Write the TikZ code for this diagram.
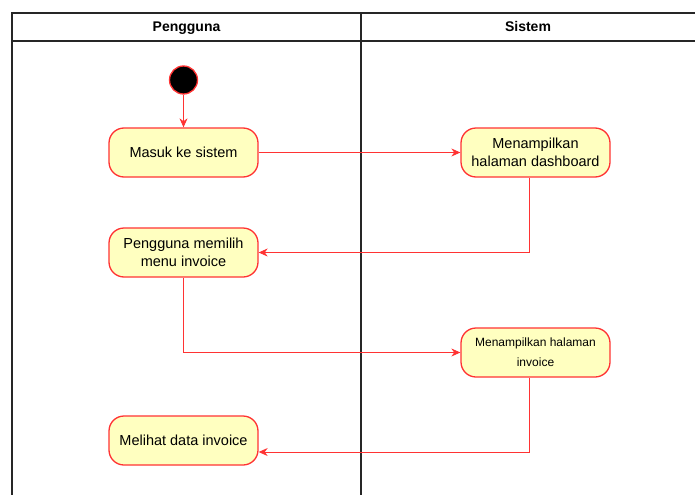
\documentclass[tikz,border=0pt]{standalone}
\usepackage{fontspec}
\setmainfont{Liberation Sans}
\usetikzlibrary{arrows.meta}
\definecolor{actfill}{HTML}{FFFFC0}
\definecolor{actline}{HTML}{FF3333}
\begin{document}
\begin{tikzpicture}[x=1pt, y=-1pt,
		act/.style={draw=actline, fill=actfill, line width=1.3pt, rounded corners=15pt,
			minimum width=149pt, minimum height=49pt, align=center, inner sep=2pt,
			font=\fontsize{14.5}{17.5}\selectfont},
		small/.style={font=\fontsize{12}{20}\selectfont},
		flow/.style={draw=actline, line width=0.9pt, -{Stealth[length=9pt, width=8pt]}},
		lane/.style={draw=black!85, line width=1.4pt},
		header/.style={font=\bfseries\fontsize{14}{16}\selectfont, anchor=base} ]
	\useasboundingbox (0,0) rectangle (695,495);
	% swimlanes
	\draw[lane] (695,13) -- (12,13) -- (12,495);
	\draw[lane] (12,41) -- (695,41);
	\draw[lane] (361,13) -- (361,495);
	\node [header] (lane1) at (186.5,32) {Pengguna};
	\node [header] (lane2) at (528,32) {Sistem};
	% activities
	\node [circle, draw=actline, fill=black, line width=1.3pt, minimum size=28pt, inner sep=0pt] (start) at (183.5,80) {};
	\node [act] (masuk) at (183.5,152.5) {Masuk ke sistem};
	\node [act] (dash) at (535.5,152.5) {Menampilkan\\halaman dashboard};
	\node [act] (pilih) at (183.5,252.5) {Pengguna memilih\\menu invoice};
	\node [act, small] (tampil) at (535.5,352.5) {Menampilkan halaman\\invoice};
	\node [act] (lihat) at (183.5,440.5) {Melihat data invoice};
	\coordinate (turn) at (529,452);
	% flows
	\draw[flow] (start) -- (masuk);
	\draw[flow] (masuk) -- (dash);
	\draw[flow] (dash.south -| turn) |- (pilih.east);
	\draw[flow] (pilih.south) |- (tampil.west);
	\draw[flow] (tampil.south -| turn) |- (lihat.east |- turn);
\end{tikzpicture}
\end{document}
